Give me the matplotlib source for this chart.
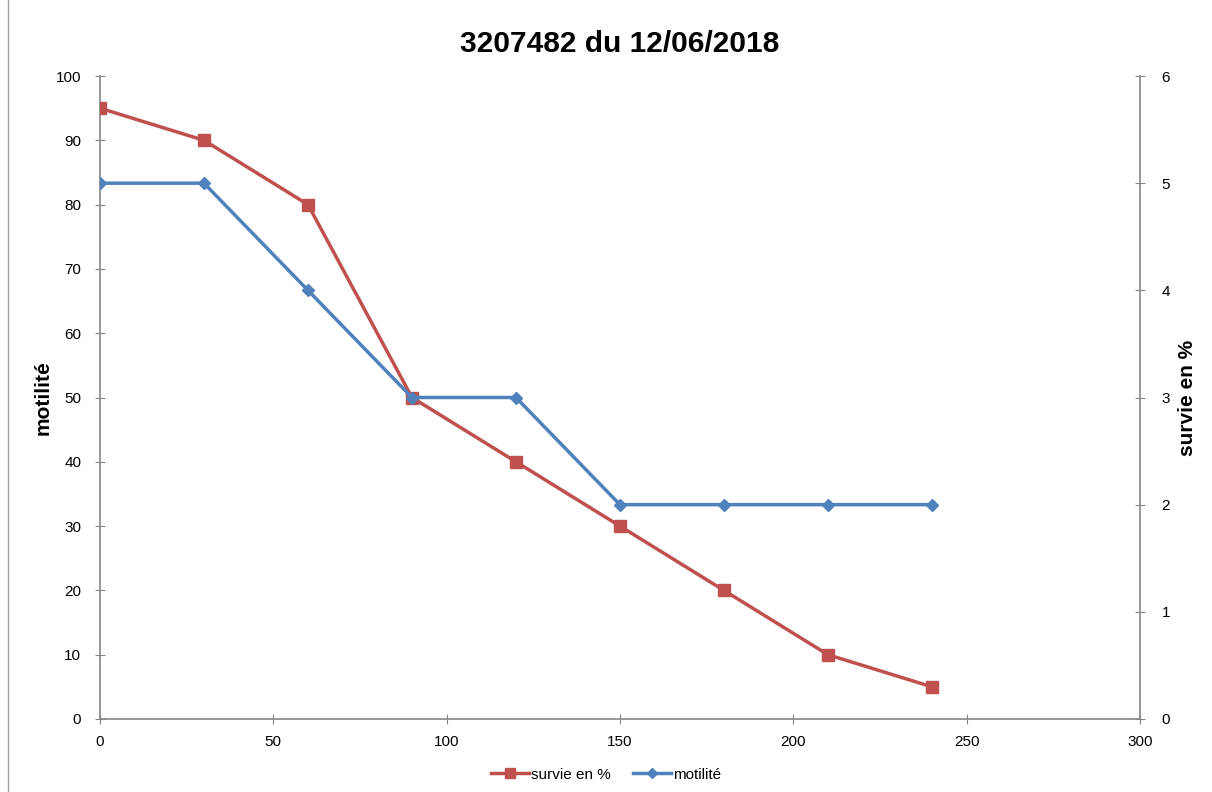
import matplotlib
matplotlib.use("Agg")
import matplotlib.pyplot as plt
from matplotlib.patches import Rectangle

temps = [0, 30, 60, 90, 120, 150, 180, 210, 240]
survie = [95, 90, 80, 50, 40, 30, 20, 10, 5]
motilite = [5, 5, 4, 3, 3, 2, 2, 2, 2]

RED = "#C0504D"
BLUE = "#4F81BD"
GRAY = "#868686"

plt.rcParams['font.family'] = ['Liberation Sans', 'DejaVu Sans']

fig = plt.figure(figsize=(12.12, 7.92), dpi=100)
ax = fig.add_axes([0.0825, 0.0922, 0.858, 0.8118])
ax2 = ax.twinx()

l1, = ax.plot(temps, survie, color=RED, lw=2.5, marker='s', markersize=9,
              label='survie en %', zorder=3)
l2, = ax2.plot(temps, motilite, color=BLUE, lw=2.5, marker='D', markersize=6,
               label='motilité', zorder=3)

ax.set_xlim(0, 300)
ax.set_ylim(0, 100)
ax2.set_ylim(0, 6)
ax.set_xticks(range(0, 301, 50))
ax.set_yticks(range(0, 101, 10))
ax2.set_yticks(range(0, 7))

for a in (ax, ax2):
    a.spines['top'].set_visible(False)
    for s in ('left', 'right', 'bottom'):
        a.spines[s].set_color(GRAY)
        a.spines[s].set_linewidth(1.2)
    a.tick_params(direction='inout', length=7, color=GRAY, labelsize=11, pad=8)
ax.spines['right'].set_visible(False)
ax2.spines['left'].set_visible(False)
ax2.spines['bottom'].set_visible(False)
ax2.tick_params(axis='y', pad=12)
ax.tick_params(axis='y', pad=10)

ax.set_ylabel('motilité', fontsize=15, fontweight='bold')
ax.yaxis.set_label_coords(-0.046, 0.5)
ax2.set_ylabel('survie en %', fontsize=15, fontweight='bold')
ax2.yaxis.set_label_coords(1.037, 0.5)
ax.set_title('3207482 du 12/06/2018', fontsize=21.5, fontweight='bold', pad=17)

fig.legend(handles=[l1, l2], loc='center', bbox_to_anchor=(0.5, 0.022), ncol=2,
           frameon=False, fontsize=11, handlelength=2.5, handletextpad=0.1,
           columnspacing=1.5, markerscale=0.8)

fig.patches.append(Rectangle((0.007, -0.01), 1.2, 1.2, transform=fig.transFigure,
                             fill=False, edgecolor='#A0A0A0', lw=1))

fig.savefig('out.png', dpi=100)
